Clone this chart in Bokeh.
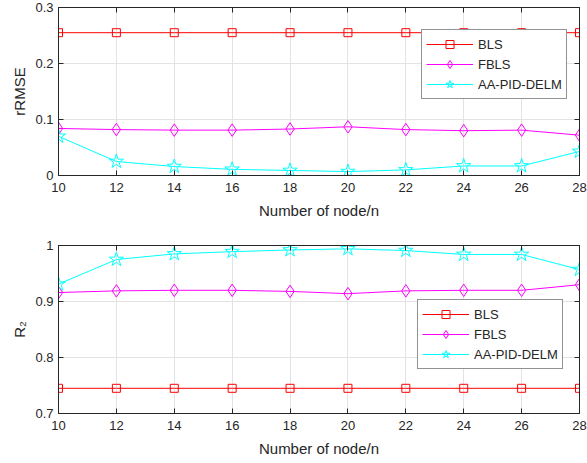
from bokeh.plotting import figure
from bokeh.layouts import column
from bokeh.models import LinearAxis, Legend, LegendItem, FixedTicker, Range1d
from bokeh.embed import file_html
from bokeh.resources import INLINE

nodes = [10, 12, 14, 16, 18, 20, 22, 24, 26, 28]

rmse_bls = [0.255, 0.255, 0.255, 0.255, 0.255, 0.255, 0.255, 0.255, 0.255, 0.255]
rmse_fbls = [0.084, 0.082, 0.081, 0.081, 0.083, 0.087, 0.082, 0.080, 0.081, 0.072]
rmse_aa = [0.070, 0.025, 0.016, 0.011, 0.009, 0.007, 0.010, 0.017, 0.017, 0.043]

r2_bls = [0.745, 0.745, 0.745, 0.745, 0.745, 0.745, 0.745, 0.745, 0.745, 0.745]
r2_fbls = [0.916, 0.919, 0.920, 0.920, 0.918, 0.914, 0.919, 0.920, 0.920, 0.930]
r2_aa = [0.931, 0.975, 0.985, 0.989, 0.992, 0.994, 0.991, 0.984, 0.984, 0.957]

series_names = ["BLS", "FBLS", "AA-PID-DELM"]
colors = ["#FF0000", "#FF00FF", "#00FFFF"]
markers = ["square", "diamond", "star"]
marker_sizes = [8, 12.5, 15]

x_ticks = [10, 12, 14, 16, 18, 20, 22, 24, 26, 28]
rmse_ticks = [0, 0.1, 0.2, 0.3]
r2_ticks = [0.7, 0.8, 0.9, 1.0]

FONT = "Liberation Sans"
DARK = "#262626"


def style_axis(ax, show_labels=True, ticks=None):
    ax.major_tick_in = 5
    ax.major_tick_out = 0
    ax.minor_tick_line_color = None
    ax.axis_line_color = DARK
    ax.major_tick_line_color = DARK
    ax.major_label_text_font = FONT
    ax.major_label_text_color = DARK
    ax.axis_label_text_font = FONT
    ax.axis_label_text_color = DARK
    ax.axis_label_text_font_style = "normal"
    ax.axis_label_text_font_size = "15px"
    ax.major_label_text_font_size = "13px"
    if not show_labels:
        ax.major_label_overrides = {t: "" for t in ticks}
        ax.major_label_standoff = 0


def make_fig(data, yticks, yrange, ylabel, height, top, bottom, legend_loc):
    p = figure(width=587, height=height, output_backend="svg", toolbar_location=None,
               x_range=Range1d(10, 28), y_range=Range1d(*yrange),
               min_border_left=58, min_border_right=8, min_border_top=top,
               min_border_bottom=bottom)
    p.outline_line_color = DARK
    p.xaxis.ticker = FixedTicker(ticks=x_ticks)
    p.yaxis.ticker = FixedTicker(ticks=yticks)
    p.xaxis.axis_label = "Number of node/n"
    p.yaxis.axis_label = ylabel
    p.xaxis.axis_label_standoff = 7
    p.yaxis.axis_label_standoff = 4
    p.xaxis.major_label_standoff = 7
    p.yaxis.major_label_standoff = 5
    style_axis(p.xaxis[0])
    style_axis(p.yaxis[0])
    ra = LinearAxis(ticker=FixedTicker(ticks=yticks))
    ta = LinearAxis(ticker=FixedTicker(ticks=x_ticks))
    style_axis(ra, False, yticks)
    style_axis(ta, False, x_ticks)
    p.add_layout(ra, "right")
    p.add_layout(ta, "above")
    p.xgrid.ticker = FixedTicker(ticks=x_ticks)
    p.ygrid.ticker = FixedTicker(ticks=yticks)
    for g in (p.xgrid[0], p.ygrid[0]):
        g.grid_line_color = "#e3e3e3"
        g.grid_line_width = 1

    items = []
    for vals, name, c, m, s in zip(data, series_names, colors, markers, marker_sizes):
        l = p.line(nodes, vals, line_color=c, line_width=1)
        sc = p.scatter(nodes, vals, marker=m, size=s, line_color=c,
                       fill_color=None, line_width=1)
        items.append(LegendItem(label=name, renderers=[l, sc]))
    leg = Legend(items=items, location=legend_loc)
    leg.border_line_color = DARK
    leg.border_line_width = 1
    leg.background_fill_color = "white"
    leg.background_fill_alpha = 1
    leg.label_text_font = FONT
    leg.label_text_font_size = "13px"
    leg.label_text_color = DARK
    leg.glyph_width = 47
    leg.glyph_height = 20
    leg.label_height = 14
    leg.spacing = -3
    leg.padding = 4
    leg.margin = 0
    leg.label_standoff = 5
    p.add_layout(leg, "center")
    return p


p1 = make_fig([rmse_bls, rmse_fbls, rmse_aa], rmse_ticks, (0, 0.3), "rRMSE",
              230, 7, 55, (363, 76))
p2 = make_fig([r2_bls, r2_fbls, r2_aa], r2_ticks, (0.7, 1.0), "R₂",
              233, 15, 50, (359, 44))

layout = column(p1, p2, spacing=0)
open("out.html", "w").write(file_html(layout, INLINE))
